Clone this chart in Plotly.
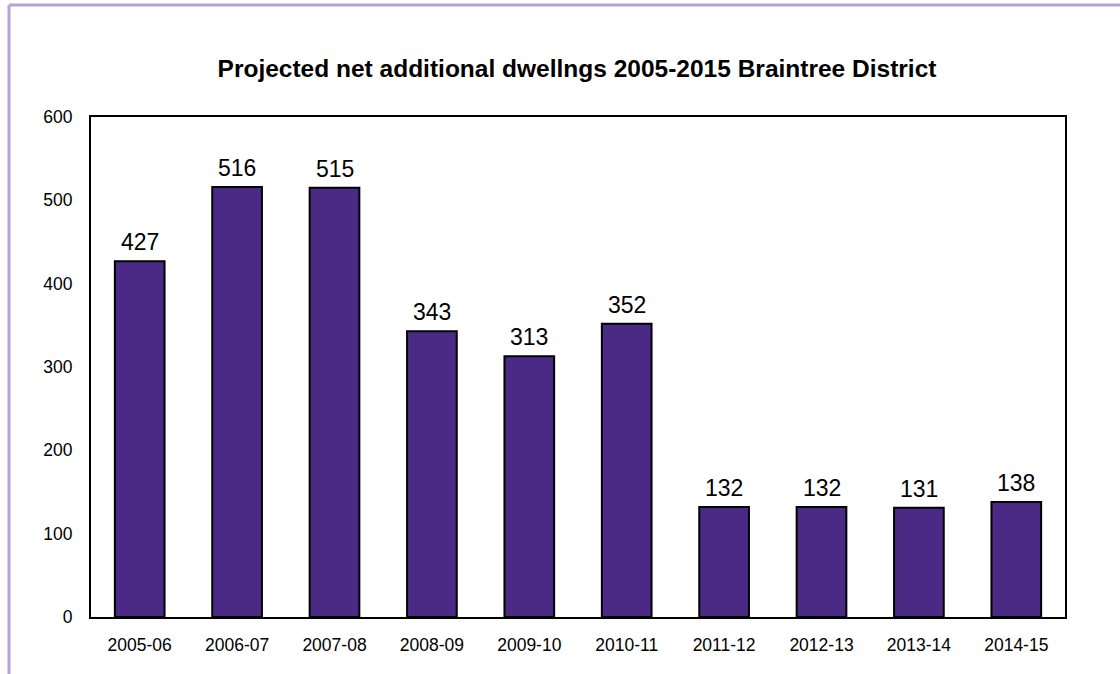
import plotly.graph_objects as go

categories = ["2005-06", "2006-07", "2007-08", "2008-09", "2009-10",
              "2010-11", "2011-12", "2012-13", "2013-14", "2014-15"]
values = [427, 516, 515, 343, 313, 352, 132, 132, 131, 138]
y_ticks = [0, 100, 200, 300, 400, 500, 600]
title_text = "Projected net additional dwellngs 2005-2015 Braintree District"

FONT = "Liberation Sans, Arial, Helvetica, sans-serif"

fig = go.Figure()
fig.add_trace(go.Bar(
    x=categories, y=values,
    marker=dict(color="#4B2A86", line=dict(color="black", width=2)),
    hoverinfo="x+y",
))

for c, v in zip(categories, values):
    fig.add_annotation(x=c, y=v, text=str(v), showarrow=False,
                       yanchor="bottom", yshift=4,
                       font=dict(size=23, color="black", family=FONT))

fig.update_layout(
    width=1120, height=674,
    margin=dict(l=91, r=55, t=117, b=57),
    paper_bgcolor="white", plot_bgcolor="white",
    bargap=0.49,
    showlegend=False,
    title=dict(text="<b>" + title_text + "</b>", x=577 / 1120, xanchor="center",
               y=1 - 68 / 674, yanchor="middle",
               font=dict(size=24.5, color="black", family=FONT)),
    font=dict(family=FONT, color="black"),
)
fig.update_xaxes(type="category", showline=True, linecolor="black", linewidth=2,
                 mirror=True, ticks="", tickfont=dict(size=17.5),
                 ticklabelstandoff=11)
fig.update_yaxes(range=[0, 600], tickvals=y_ticks, showgrid=False,
                 showline=True, linecolor="black", linewidth=2, mirror=True,
                 ticks="", tickfont=dict(size=17.5), ticklabelstandoff=13,
                 zeroline=False)

# decorative border (top and left) in light purple
fig.add_shape(type="line", xref="paper", yref="paper",
              x0=-82/974, x1=1120/974, y0=1 + 112/500, y1=1 + 112/500,
              line=dict(color="#B5A3D4", width=3))
fig.add_shape(type="line", xref="paper", yref="paper",
              x0=-82/974, x1=-82/974, y0=1 + 112/500, y1=-57/500,
              line=dict(color="#B5A3D4", width=3))

fig.write_html("out.html", config={"displayModeBar": False},
               post_script="document.body.style.margin='0px';")
